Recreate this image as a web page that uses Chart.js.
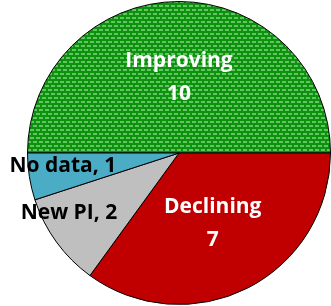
<!DOCTYPE html>
<html>
<head>
<meta charset="utf-8">
<script src="https://cdn.jsdelivr.net/npm/chart.js@4"></script>
<style>
  html, body { margin: 0; padding: 0; background: #fff; }
  #wrap { width: 331px; height: 306px; }
</style>
</head>
<body>
<div id="wrap"><canvas id="pieChart"></canvas></div>
<script>
// Chart data
const categories = ['Improving', 'Declining', 'New PI', 'No data'];
const counts = [10, 7, 2, 1];

// small green "shingle" pattern for the Improving slice
function makePattern() {
    const c = document.createElement('canvas');
    c.width = 6; c.height = 8;
    const g = c.getContext('2d');
    g.fillStyle = '#0c920c';
    g.fillRect(0, 0, 6, 8);
    g.fillStyle = '#62c462';
    g.fillRect(0, 1, 4, 2);
    g.fillRect(3, 5, 4, 2);
    g.fillRect(-3, 5, 4, 2);
    return g.createPattern(c, 'repeat');
}

// draws the Excel-like data labels
const sliceLabels = {
    id: 'sliceLabels',
    afterDatasetsDraw(chart, args, opts) {
        const ctx = chart.ctx;
        const arcs = chart.getDatasetMeta(0).data;
        ctx.save();
        ctx.font = 'bold 21px "Open Sans", Lato, sans-serif';
        ctx.textAlign = 'center';
        ctx.textBaseline = 'middle';
        arcs.forEach((arc, i) => {
            const p = arc.getProps(['x', 'y', 'startAngle', 'endAngle', 'outerRadius'], true);
            const mid = (p.startAngle + p.endAngle) / 2;
            const r = p.outerRadius * opts.radius[i];
            const x = p.x + Math.cos(mid) * r + opts.nudge[i][0];
            const y = p.y + Math.sin(mid) * r + opts.nudge[i][1];
            ctx.fillStyle = opts.colors[i];
            const v = counts[i];
            if (opts.inline[i]) {
                ctx.fillText(categories[i] + ', ' + v, x, y);
            } else {
                ctx.fillText(categories[i], x, y - 16);
                ctx.fillText(String(v), x, y + 17);
            }
        });
        ctx.restore();
    }
};

const ctxPie = document.getElementById('pieChart').getContext('2d');
new Chart(ctxPie, {
    type: 'pie',
    data: {
        labels: categories,
        datasets: [{
            data: counts,
            backgroundColor: [makePattern(), '#c00000', '#bfbfbf', '#4bacc6'],
            borderColor: '#000',
            borderWidth: 1,
            hoverOffset: 0
        }]
    },
    options: {
        responsive: true,
        maintainAspectRatio: false,
        animation: false,
        rotation: -90,
        layout: { padding: { left: 27, top: 0, right: 0, bottom: 0 } },
        events: [],
        plugins: {
            legend: { display: false },
            tooltip: { enabled: false },
            sliceLabels: {
                radius: [0.5, 0.52, 0.8, 0.77],
                nudge: [[0, 0], [-2, 0], [-12, -11], [-1, -5]],
                inline: [false, false, true, true],
                colors: ['#fff', '#fff', '#000', '#000']
            }
        }
    },
    plugins: [sliceLabels]
});
</script>
</body>
</html>
